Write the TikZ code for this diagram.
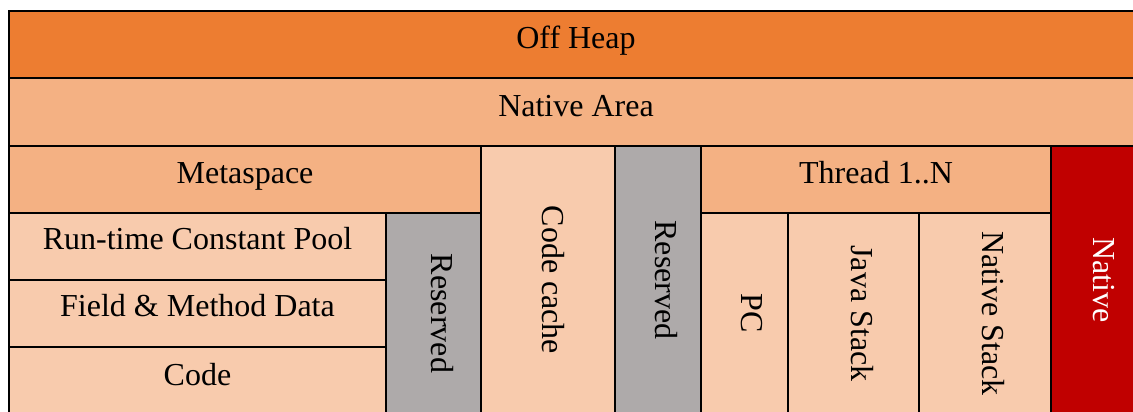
\documentclass[tikz,border=0pt]{standalone}
\usepackage{fontspec}
\setmainfont{Liberation Serif}
\usetikzlibrary{fit}

\definecolor{offheapc}{HTML}{ED7D31}
\definecolor{areac}{HTML}{F4B183}
\definecolor{lightc}{HTML}{F8CBAD}
\definecolor{reservedc}{HTML}{AEAAAA}
\definecolor{nativec}{HTML}{C00000}

\tikzset{
  cell/.style={draw=black, line width=1.5pt, inner sep=0pt, outer sep=0pt},
  hlabel/.style={anchor=base, inner sep=0pt, font=\fontsize{32}{38}\selectfont},
  vlabel/.style={anchor=base, rotate=-90, inner sep=0pt, font=\fontsize{32}{38}\selectfont},
}

\begin{document}
\begin{tikzpicture}[x=1pt, y=-1pt]
  \useasboundingbox (0,0) rectangle (1133,412);
  \clip (0,0) rectangle (1133,412);

  % rows spanning the whole width
  \node[cell, fill=offheapc, fit={(9,11) (1143,78)}] (offheap) {};
  \node[cell, fill=areac,    fit={(9,78) (1143,146)}] (nativearea) {};

  % metaspace block
  \node[cell, fill=areac,  fit={(9,146) (481,213)}] (metaspace) {};
  \node[cell, fill=lightc, fit={(9,213) (386,280)}] (rcp) {};
  \node[cell, fill=lightc, fit={(9,280) (386,347)}] (fmd) {};
  \node[cell, fill=lightc, fit={(9,347) (386,414)}] (code) {};
  \node[cell, fill=reservedc, fit={(386,213) (481,414)}] (reserved1) {};

  % code cache and reserved
  \node[cell, fill=lightc,    fit={(481,146) (615,414)}] (codecache) {};
  \node[cell, fill=reservedc, fit={(615,146) (701,414)}] (reserved2) {};

  % thread block
  \node[cell, fill=areac,  fit={(701,146) (1051,213)}] (thread) {};
  \node[cell, fill=lightc, fit={(701,213) (788,414)}] (pc) {};
  \node[cell, fill=lightc, fit={(788,213) (919,414)}] (javastack) {};
  \node[cell, fill=lightc, fit={(919,213) (1051,414)}] (nativestack) {};

  % native
  \node[cell, fill=nativec, fit={(1051,146) (1143,414)}] (native) {};

  % outer frame
  \draw[line width=2.2pt] (9,11) rectangle (1143,414);

  % horizontal labels
  \node[hlabel] (t-offheap)    at ([yshift=-4.5pt]offheap.center)    {Off Heap};
  \node[hlabel] (t-nativearea) at ([yshift=-4pt]nativearea.center)   {Native Area};
  \node[hlabel] (t-metaspace)  at ([yshift=-4pt]metaspace.center)    {Metaspace};
  \node[hlabel] (t-rcp)        at ([yshift=-3pt]rcp.center)          {Run-time Constant Pool};
  \node[hlabel] (t-fmd)        at ([yshift=-3.3pt]fmd.center)        {Field \& Method Data};
  \node[hlabel] (t-code)       at ([yshift=-4.5pt]code.center)       {Code};
  \node[hlabel] (t-thread)     at ([yshift=-4pt]thread.center)       {Thread 1..N};

  % vertical labels
  \node[vlabel] (t-reserved1)   at ([xshift=-2pt]reserved1.center)     {Reserved};
  \node[vlabel] (t-codecache)   at ([xshift=-6pt]codecache.center)     {Code cache};
  \node[vlabel] (t-reserved2)   at ([xshift=-3pt]reserved2.center)     {Reserved};
  \node[vlabel] (t-pc)          at ([xshift=-3pt]pc.center)            {PC};
  \node[vlabel] (t-javastack)   at ([xshift=-2.5pt]javastack.center)   {Java Stack};
  \node[vlabel] (t-nativestack) at ([xshift=-3pt]nativestack.center)   {Native Stack};
  \node[vlabel, text=white] (t-native) at ([xshift=-4pt]native.center) {Native};
\end{tikzpicture}
\end{document}
